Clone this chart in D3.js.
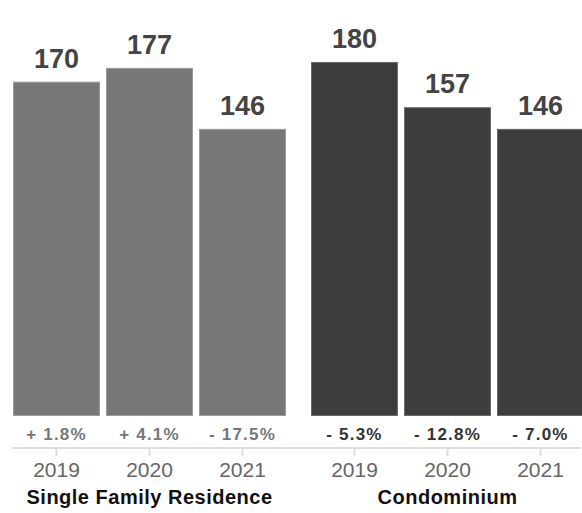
<!DOCTYPE html>
<html>
<head>
<meta charset="utf-8">
<script src="https://d3js.org/d3.v7.min.js"></script>
<style>
body { margin: 0; background: #fff; }
text { font-family: "Liberation Sans", Arial, Helvetica, sans-serif; }
</style>
</head>
<body>
<div id="chart"></div>
<script>
var years = ["2019", "2020", "2021"];
var groups = ["Single Family Residence", "Condominium"];
var sfrValues = [170, 177, 146];
var condoValues = [180, 157, 146];
var sfrChange = ["+ 1.8%", "+ 4.1%", "- 17.5%"];
var condoChange = ["- 5.3%", "- 12.8%", "- 7.0%"];

var width = 582, height = 513,
	baseline = 416,
	axisY = 448;

var svg = d3.select("#chart")
	.append("svg")
	.attr("width", width)
	.attr("height", height)

var yScale = d3.scaleLinear()
	.domain([0, 180])
	.range([baseline, baseline - 354])

var panels = [
	{ name: groups[0], values: sfrValues, change: sfrChange, range: [13, 286], fill: "#777777", stroke: "#9a9a9a", label: "#777777" },
	{ name: groups[1], values: condoValues, change: condoChange, range: [311, 584], fill: "#3d3d3d", stroke: "#6a6a6a", label: "#333333" }
];

// shared axis line
svg.append("line")
	.attr("x1", 12)
	.attr("x2", 581)
	.attr("y1", axisY)
	.attr("y2", axisY)
	.style("stroke", "#dddddd")
	.style("stroke-width", 2)

panels.forEach(function(p) {
	var xScale = d3.scaleBand()
		.domain(years)
		.range(p.range)
		.paddingInner(0.065)
		.paddingOuter(0)

	var g = svg.append("g").attr("class", "panel")

	g.selectAll("rect.bar")
		.data(p.values)
		.enter()
		.append("rect")
		.attr("class", "bar")
		.attr("x", function(d, i) { return xScale(years[i]) + 0.5 })
		.attr("y", function(d) { return yScale(d) + 0.5 })
		.attr("width", xScale.bandwidth() - 1)
		.attr("height", function(d) { return baseline - yScale(d) - 1 })
		.style("fill", p.fill)
		.style("stroke", p.stroke)
		.style("stroke-width", 1)

	g.selectAll("text.value")
		.data(p.values)
		.enter()
		.append("text")
		.attr("class", "value")
		.attr("x", function(d, i) { return xScale(years[i]) + xScale.bandwidth() / 2 })
		.attr("y", function(d) { return yScale(d) - 14 })
		.attr("text-anchor", "middle")
		.style("font-size", "27px")
		.style("font-weight", "bold")
		.style("fill", "#444444")
		.text(function(d) { return d })

	g.selectAll("text.change")
		.data(p.change)
		.enter()
		.append("text")
		.attr("class", "change")
		.attr("x", function(d, i) { return xScale(years[i]) + xScale.bandwidth() / 2 })
		.attr("y", 440)
		.attr("text-anchor", "middle")
		.style("font-size", "17px")
		.style("letter-spacing", "1.2px")
		.style("font-weight", "bold")
		.style("fill", p.label)
		.text(function(d) { return d })

	var xAxis = d3.axisBottom(xScale)
		.tickSizeInner(7)
		.tickSizeOuter(0)
		.tickPadding(6)

	var ax = g.append("g")
		.attr("class", "xAxis")
		.attr("transform", "translate(0," + (axisY + 1) + ")")
		.call(xAxis)

	ax.select(".domain").remove()
	ax.selectAll(".tick line").style("stroke", "#dddddd").style("stroke-width", 2)
	ax.selectAll(".tick text")
		.style("font-family", "'Liberation Sans', Arial, sans-serif")
		.style("font-size", "21px")
		.style("fill", "#666666")

	g.append("text")
		.attr("x", (p.range[0] + p.range[1]) / 2)
		.attr("y", 504)
		.attr("text-anchor", "middle")
		.style("font-size", "20px")
		.style("letter-spacing", "0.5px")
		.style("font-weight", "bold")
		.style("fill", "#111111")
		.text(p.name)
});
</script>
</body>
</html>
